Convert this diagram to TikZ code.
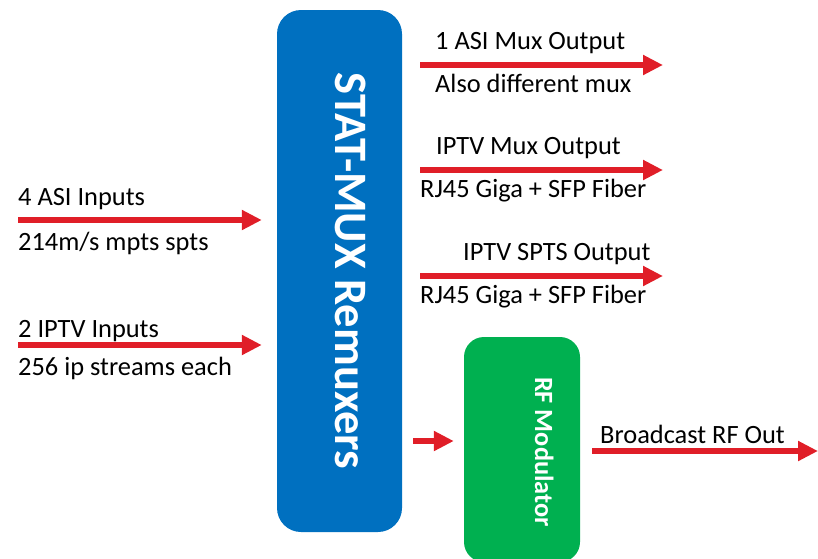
\documentclass[tikz,border=0pt]{standalone}
\usepackage{fontspec}
\setmainfont{Carlito}
\usepackage{tikz}
\usetikzlibrary{arrows.meta, positioning, calc}
\definecolor{muxblue}{HTML}{0070C0}
\definecolor{modgreen}{HTML}{00B050}
\definecolor{sigred}{RGB}{224,30,40}

\begin{document}
\begin{tikzpicture}[x=1pt, y=-1pt, line cap=butt,
		sig/.style={draw=sigred, line width=5.5pt, -{Triangle[length=20pt, width=19pt]}},
		lbl/.style={anchor=base west, inner sep=0pt, font=\fontsize{26.4}{30}\selectfont},
		muxbox/.style={fill=muxblue, rounded corners=24pt, rotate=-90},
		modbox/.style={fill=modgreen, rounded corners=20pt, rotate=-90},
		title/.style={rotate=-90, anchor=base, inner sep=0pt, text=white}
	]
	\useasboundingbox (0,0) rectangle (818,558);

	% blocks
	\node[muxbox, minimum width=522pt, minimum height=125pt] (mux) at (339.5,271) {};
	\node[modbox, minimum width=225pt, minimum height=116pt] (rfmod) at (522,449.5) {};
	\node[title, font=\bfseries\fontsize{46.5}{50}\selectfont] (mux-title) at (335,271) {STAT-MUX Remuxers};
	\node[title, font=\bfseries\fontsize{26.3}{30}\selectfont] (rfmod-title) at (535,452) {RF Modulator};

	% free ends
	\coordinate (asi) at (18,220);
	\coordinate (iptv) at (18,345);
	\coordinate (asiout) at (663,65);
	\coordinate (muxout) at (663,170);
	\coordinate (sptsout) at (663,276);
	\coordinate (rfout) at (818,451);
	\coordinate (tomod) at (402,441);

	% inputs
	\draw[sig, shorten >=15pt] (asi) -- (asi -| mux.south);
	\draw[sig, shorten >=15pt] (iptv) -- (iptv -| mux.south);
	\node[lbl] (asi-top) at (18,205) {4 ASI Inputs};
	\node[lbl] (asi-bot) at (18,250) {214m/s mpts spts};
	\node[lbl] (iptv-top) at (18,337) {2 IPTV Inputs};
	\node[lbl] (iptv-bot) at (18,375) {256 ip streams each};

	% outputs
	\draw[sig, shorten <=18pt] (asiout -| mux.north) -- (asiout);
	\draw[sig, shorten <=18pt] (muxout -| mux.north) -- (muxout);
	\draw[sig, shorten <=18pt] (sptsout -| mux.north) -- (sptsout);
	\node[lbl] (asiout-top) at (435,49) {1 ASI Mux Output};
	\node[lbl] (asiout-bot) at (435,92) {Also different mux};
	\node[lbl] (muxout-top) at (436,154) {IPTV Mux Output};
	\node[lbl] (muxout-bot) at (420,197) {RJ45 Giga + SFP Fiber};
	\node[lbl] (sptsout-top) at (463,260) {IPTV SPTS Output};
	\node[lbl] (sptsout-bot) at (420,303) {RJ45 Giga + SFP Fiber};

	% modulator
	\draw[sig, shorten <=11pt, shorten >=10pt] (tomod) -- (tomod -| rfmod.south);
	\draw[sig, shorten <=12pt] (rfout -| rfmod.north) -- (rfout);
	\node[lbl] (rfout-top) at (600,443) {Broadcast RF Out};

\end{tikzpicture}
\end{document}
